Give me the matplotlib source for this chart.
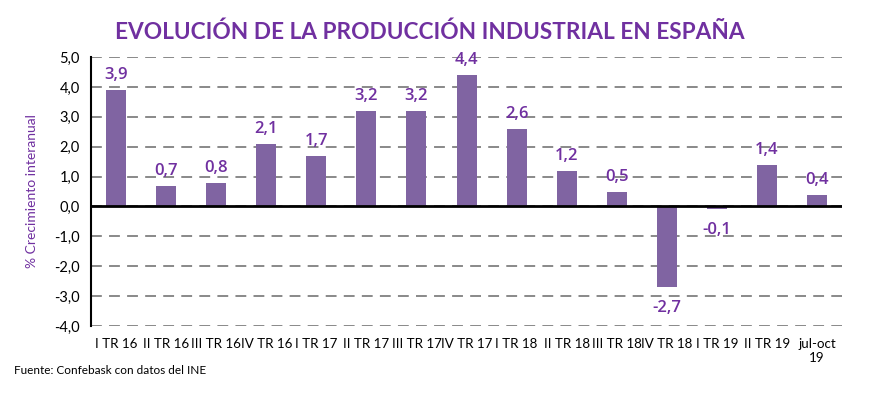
import matplotlib.pyplot as plt

plt.rcParams['font.family'] = ['Lato', 'DejaVu Sans']

# datos
periodos = ["I TR 16", "II TR 16", "III TR 16", "IV TR 16", "I TR 17", "II TR 17",
            "III TR 17", "IV TR 17", "I TR 18", "II TR 18", "III TR 18", "IV TR 18",
            "I TR 19", "II TR 19", "jul-oct\n19"]
crecimiento = [3.9, 0.7, 0.8, 2.1, 1.7, 3.2, 3.2, 4.4, 2.6, 1.2, 0.5, -2.7, -0.1, 1.4, 0.4]
yticks = [5, 4, 3, 2, 1, 0, -1, -2, -3, -4]

morado = "#7030A0"
barra = "#8064A2"

fig = plt.figure(figsize=(8.92, 3.99), dpi=100)
ax = fig.add_axes([0.102, 0.183, 0.842, 0.674])

x = list(range(len(periodos)))
ax.bar(x, crecimiento, width=0.4, color=barra, zorder=3)

# etiquetas de valor
for xi, v in zip(x, crecimiento):
    txt = ("%.1f" % v).replace(".", ",")
    if v >= 0:
        ax.annotate(txt, (xi, v), xytext=(0, 5), textcoords="offset points",
                    ha="center", va="bottom", fontsize=12, color=morado,
                    family=["Open Sans", "DejaVu Sans"], fontweight=600)
    else:
        ax.annotate(txt, (xi, v), xytext=(0, -9), textcoords="offset points",
                    ha="center", va="top", fontsize=12, color=morado,
                    family=["Open Sans", "DejaVu Sans"], fontweight=600)

ax.set_xlim(-0.5, len(periodos) - 0.5)
ax.set_ylim(-4, 5)
ax.set_yticks(yticks)
ax.set_yticklabels([("%.1f" % t).replace(".", ",") for t in yticks], fontsize=10.5)
ax.set_xticks(x)
ax.set_xticklabels(periodos, fontsize=9.6)
ax.tick_params(axis="both", length=0, pad=8)
ax.tick_params(axis="x", pad=9)

ax.yaxis.grid(True, linestyle=(0, (6, 4)), color="#808080", linewidth=1.3, zorder=0)
ax.axhline(0, color="black", linewidth=2, zorder=4)
for s in ["top", "right", "bottom"]:
    ax.spines[s].set_visible(False)
ax.spines["left"].set_linewidth(1.5)

ax.set_ylabel("% Crecimiento interanual", fontsize=10, color=morado, labelpad=12)

fig.text(0.482, 0.92, "EVOLUCIÓN DE LA PRODUCCIÓN INDUSTRIAL EN ESPAÑA",
         ha="center", va="center", fontsize=16.3, fontweight="bold", color=morado)
fig.text(0.016, 0.072, "Fuente: Confebask con datos del INE", fontsize=8.5,
         ha="left", va="center")

fig.savefig("out.png", dpi=100)
